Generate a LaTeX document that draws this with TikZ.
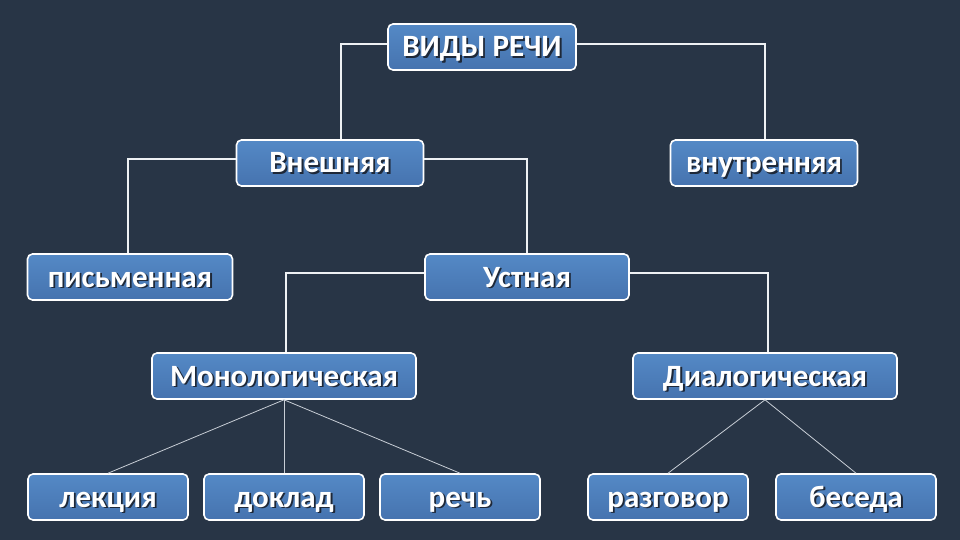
\documentclass[tikz,border=0pt]{standalone}
\usepackage{fontspec}
\setmainfont{Carlito}
\definecolor{bgc}{HTML}{283546}
\definecolor{boxtop}{HTML}{5489C6}
\definecolor{boxbot}{HTML}{4673AF}
\definecolor{linec}{HTML}{EEF1F4}
\definecolor{thinc}{HTML}{C8CED6}
\definecolor{shadc}{HTML}{1E2838}
\newcommand\shtxt[1]{\rlap{\kern1.8pt\raisebox{-1.8pt}{\textcolor{shadc}{#1}}}#1}
\tikzset{
  box/.style={draw=white, line width=1.6pt, rounded corners=5pt,
    top color=boxtop, bottom color=boxbot, text=white,
    font=\bfseries\fontsize{31}{34}\selectfont,
    text height=20pt, text depth=0pt,
    minimum height=46pt, inner sep=0pt},
  conn/.style={draw=linec, line width=1.5pt},
  thin/.style={draw=thinc, line width=0.8pt}
}
\begin{document}
\begin{tikzpicture}[x=1pt,y=-1pt]
\fill[bgc] (0,0) rectangle (960,540);
\useasboundingbox (0,0) rectangle (960,540);

\node[box, minimum width=188pt] (vr) at (482,47) {\shtxt{ВИДЫ РЕЧИ}};
\node[box, minimum width=187pt] (vn) at (330,163) {\shtxt{Внешняя}};
\node[box, minimum width=187pt] (vt) at (764,163) {\shtxt{внутренняя}};
\node[box, minimum width=205pt] (pi) at (130,277) {\shtxt{письменная}};
\node[box, minimum width=204pt] (us) at (527,277) {\shtxt{Устная}};
\node[box, minimum width=264pt] (mo) at (284,376) {\shtxt{Монологическая}};
\node[box, minimum width=264pt] (di) at (765,376) {\shtxt{Диалогическая}};
\node[box, minimum width=160pt] (le) at (108,497) {\shtxt{лекция}};
\node[box, minimum width=160pt] (do) at (284,497) {\shtxt{доклад}};
\node[box, minimum width=160pt] (re) at (460,497) {\shtxt{речь}};
\node[box, minimum width=160pt] (ra) at (668,497) {\shtxt{разговор}};
\node[box, minimum width=160pt] (be) at (856,497) {\shtxt{беседа}};

\draw[conn] (vr.west |- 0,44) -| (vn.north -| 341,0);
\draw[conn] (vr.east |- 0,44) -| (vt.north -| 765,0);
\draw[conn] (vn.west |- 0,159) -| (pi.north -| 128,0);
\draw[conn] (vn.east |- 0,159) -| (us.north -| 527,0);
\draw[conn] (us.west |- 0,273) -| (mo.north -| 286,0);
\draw[conn] (us.east |- 0,273) -| (di.north -| 768,0);
\draw[thin] (mo.south) -- (le.north);
\draw[thin] (mo.south) -- (do.north);
\draw[thin] (mo.south) -- (re.north);
\draw[thin] (di.south) -- (ra.north);
\draw[thin] (di.south) -- (be.north);
\end{tikzpicture}
\end{document}
